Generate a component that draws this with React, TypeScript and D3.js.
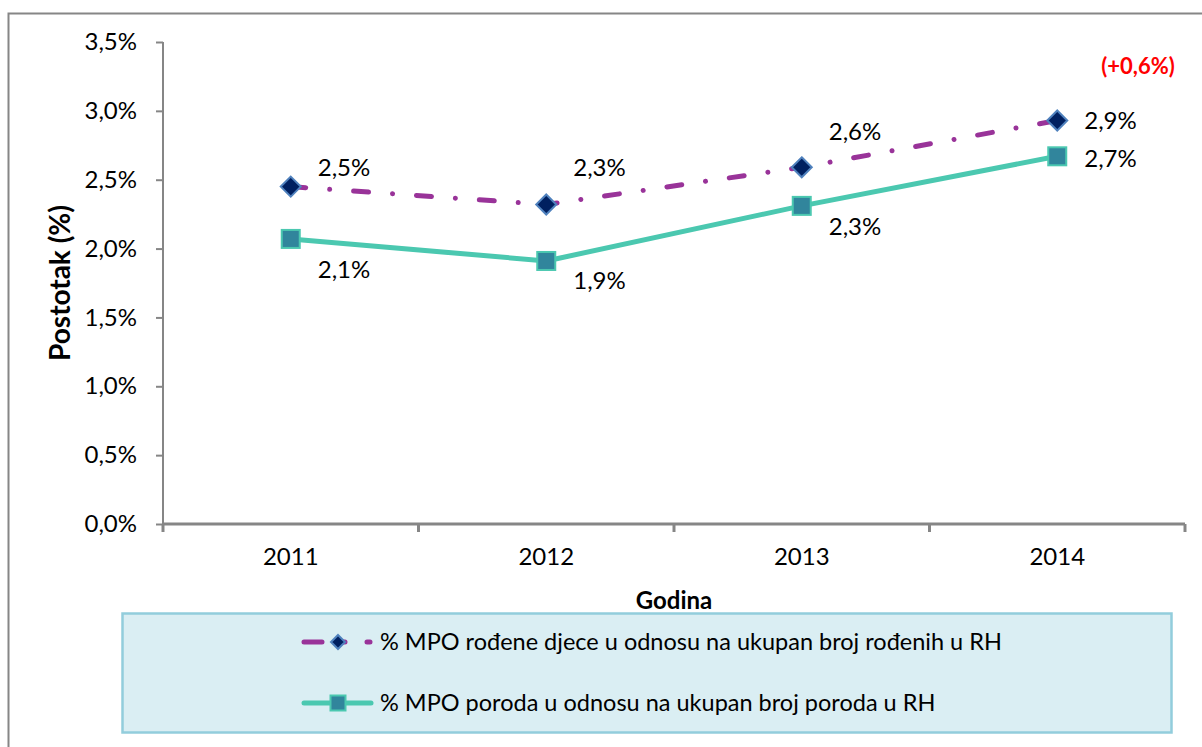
import React, { useEffect, useRef } from 'react';
import * as d3 from 'd3';

const years = ['2011', '2012', '2013', '2014'];
const mpoBirths = [2.45, 2.32, 2.59, 2.93];
const mpoBirthLabels = ['2,5%', '2,3%', '2,6%', '2,9%'];
const mpoDeliveries = [2.07, 1.91, 2.31, 2.67];
const mpoDeliveryLabels = ['2,1%', '1,9%', '2,3%', '2,7%'];
const yTicks = [0, 0.5, 1, 1.5, 2, 2.5, 3, 3.5];
const legendLabels = [
  '% MPO rođene djece u odnosu na ukupan broj rođenih u RH',
  '% MPO poroda u odnosu na ukupan broj poroda u RH'
];
const changeNote = '(+0,6%)';

const WIDTH = 1202;
const HEIGHT = 747;
const FONT = 'Lato, "Open Sans", sans-serif';

// label placement (pixel offsets from the marker, as Excel placed them)
const birthLabelDy = [-19, -37, -36, 0];
const deliveryLabelDy = [31, 20, 21, 2];

const App: React.FC = () => {
  const svgRef = useRef<SVGSVGElement>(null);

  useEffect(() => {
    if (!svgRef.current) return;
    d3.select(svgRef.current).selectAll('*').remove();
    const svg = d3.select(svgRef.current);

    const plot = { left: 163, right: 1185, top: 42, bottom: 524 };

    // outer chart frame (right/bottom run off the picture)
    svg.append('path')
      .attr('d', `M8.5,${HEIGHT + 5}V13.5H${WIDTH + 5}`)
      .attr('fill', 'none')
      .attr('stroke', '#868686')
      .attr('stroke-width', 2);

    const x = d3.scaleBand<string>()
      .domain(years)
      .range([plot.left, plot.right]);

    const y = d3.scaleLinear()
      .domain([0, 3.5])
      .range([plot.bottom, plot.top]);

    const cx = (d: string) => (x(d) as number) + x.bandwidth() / 2;

    // y axis
    const yAxis = d3.axisLeft(y)
      .tickValues(yTicks)
      .tickSize(7)
      .tickPadding(19)
      .tickFormat(d => (d as number).toFixed(1).replace('.', ',') + '%');

    const gy = svg.append('g')
      .attr('transform', `translate(${plot.left},0)`)
      .call(yAxis);
    gy.select('.domain').attr('stroke', '#868686').attr('stroke-width', 2)
      .attr('d', `M0,${plot.top}V${plot.bottom}`);
    gy.selectAll('.tick line').attr('stroke', '#868686').attr('stroke-width', 2);
    gy.selectAll('.tick text')
      .attr('font-family', FONT)
      .attr('font-size', 24)
      .attr('fill', '#000');

    // x axis
    const xAxis = d3.axisBottom(x).tickSize(0).tickPadding(24);
    const gx = svg.append('g')
      .attr('transform', `translate(0,${plot.bottom})`)
      .call(xAxis);
    gx.select('.domain').attr('stroke', '#868686').attr('stroke-width', 3)
      .attr('d', `M${plot.left},0H${plot.right}`);
    gx.selectAll('.tick text')
      .attr('font-family', FONT)
      .attr('font-size', 24)
      .attr('fill', '#000');
    const boundaries = [...years.map(d => x(d) as number), plot.right];
    gx.selectAll('line.sep')
      .data(boundaries)
      .enter()
      .append('line')
      .attr('class', 'sep')
      .attr('x1', d => d)
      .attr('x2', d => d)
      .attr('y1', 0)
      .attr('y2', 8)
      .attr('stroke', '#868686')
      .attr('stroke-width', 3);

    // axis titles
    svg.append('text')
      .attr('x', (plot.left + plot.right) / 2)
      .attr('y', 609)
      .attr('text-anchor', 'middle')
      .attr('font-family', FONT)
      .attr('font-weight', 'bold')
      .attr('font-size', 24)
      .text('Godina');

    svg.append('text')
      .attr('transform', `translate(70,${(plot.top + plot.bottom) / 2}) rotate(-90)`)
      .attr('text-anchor', 'middle')
      .attr('font-family', FONT)
      .attr('font-weight', 'bold')
      .attr('font-size', 28)
      .text('Postotak (%)');

    const line = d3.line<number>()
      .x((_, i) => cx(years[i]))
      .y(d => y(d));

    const purple = '#993399';
    const teal = '#4BC8B0';
    const dash = '15 24 0.01 24';

    // series 2: deliveries (solid teal)
    svg.append('path')
      .datum(mpoDeliveries)
      .attr('d', line)
      .attr('fill', 'none')
      .attr('stroke', teal)
      .attr('stroke-width', 5)
      .attr('stroke-linejoin', 'round');

    // series 1: births (dash-dot purple)
    svg.append('path')
      .datum(mpoBirths)
      .attr('d', line)
      .attr('fill', 'none')
      .attr('stroke', purple)
      .attr('stroke-width', 5)
      .attr('stroke-linecap', 'round')
      .attr('stroke-dasharray', dash);

    const diamond = (g: d3.Selection<any, any, any, any>, px: number, py: number, r = 10) => {
      g.append('path')
        .attr('d', `M${px},${py - r}L${px + r},${py}L${px},${py + r}L${px - r},${py}Z`)
        .attr('fill', '#002060')
        .attr('stroke', '#4F81BD')
        .attr('stroke-width', 2);
    };
    const square = (g: d3.Selection<any, any, any, any>, px: number, py: number, r = 9) => {
      g.append('rect')
        .attr('x', px - r)
        .attr('y', py - r)
        .attr('width', r * 2)
        .attr('height', r * 2)
        .attr('fill', '#31859C')
        .attr('stroke', teal)
        .attr('stroke-width', 2);
    };

    const markers = svg.append('g');
    mpoDeliveries.forEach((v, i) => square(markers, cx(years[i]), y(v)));
    mpoBirths.forEach((v, i) => diamond(markers, cx(years[i]), y(v)));

    // data labels
    const labels = svg.append('g')
      .attr('font-family', FONT)
      .attr('font-size', 24)
      .attr('fill', '#000');
    mpoBirths.forEach((v, i) => {
      labels.append('text')
        .attr('x', cx(years[i]) + 27)
        .attr('y', y(v) + birthLabelDy[i])
        .attr('dy', '0.35em')
        .text(mpoBirthLabels[i]);
    });
    mpoDeliveries.forEach((v, i) => {
      labels.append('text')
        .attr('x', cx(years[i]) + 27)
        .attr('y', y(v) + deliveryLabelDy[i])
        .attr('dy', '0.35em')
        .text(mpoDeliveryLabels[i]);
    });

    svg.append('text')
      .attr('x', 1138)
      .attr('y', 66)
      .attr('dy', '0.35em')
      .attr('text-anchor', 'middle')
      .attr('font-family', FONT)
      .attr('font-weight', 'bold')
      .attr('font-size', 22)
      .attr('fill', '#FF0000')
      .text(changeNote);

    // legend
    const legend = svg.append('g');
    legend.append('rect')
      .attr('x', 122.5)
      .attr('y', 613.5)
      .attr('width', 1049)
      .attr('height', 119)
      .attr('fill', '#DAEEF3')
      .attr('stroke', '#92CDDC')
      .attr('stroke-width', 2.5);

    const rows = [642, 703];
    // entry 1
    legend.append('line')
      .attr('x1', 304).attr('x2', 371)
      .attr('y1', rows[0]).attr('y2', rows[0])
      .attr('stroke', purple)
      .attr('stroke-width', 5)
      .attr('stroke-linecap', 'round')
      .attr('stroke-dasharray', '18 20 3 22 3 10');
    diamond(legend, 338, rows[0], 7);
    // entry 2
    legend.append('line')
      .attr('x1', 304).attr('x2', 371)
      .attr('y1', rows[1]).attr('y2', rows[1])
      .attr('stroke', teal)
      .attr('stroke-width', 5)
      .attr('stroke-linecap', 'round');
    square(legend, 338, rows[1], 7.5);

    legend.selectAll('text.leg')
      .data(legendLabels)
      .enter()
      .append('text')
      .attr('class', 'leg')
      .attr('x', 380)
      .attr('y', (_, i) => rows[i])
      .attr('dy', '0.35em')
      .attr('font-family', FONT)
      .attr('font-size', 23.5)
      .attr('fill', '#000')
      .text(d => d);
  }, []);

  return (
    <svg
      ref={svgRef}
      width={WIDTH}
      height={HEIGHT}
      style={{ position: 'absolute', left: 0, top: 0, background: '#fff' }}
    />
  );
};

export default App;
